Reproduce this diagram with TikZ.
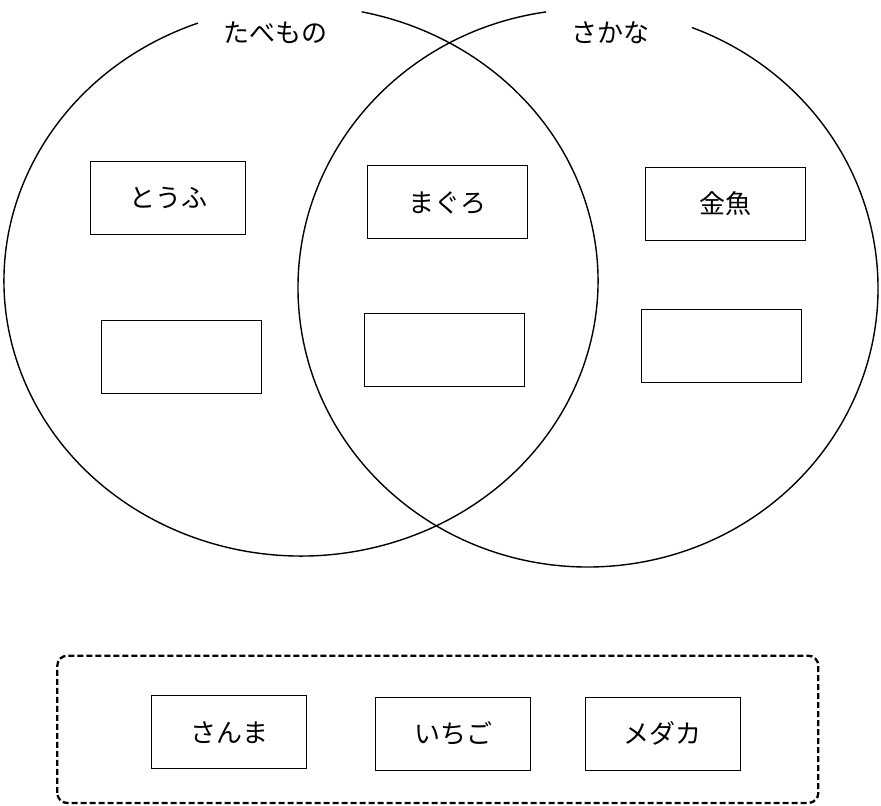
\documentclass[tikz,border=0pt]{standalone}
\usepackage{fontspec}
\newfontfamily\jpfont{Noto Sans CJK JP}
\usetikzlibrary{calc}

\tikzset{
  item/.style={draw, line width=1pt, minimum width=160pt, minimum height=73pt, inner sep=0pt, font=\jpfont\fontsize{26}{30}\selectfont},
  setlabel/.style={inner sep=0pt, font=\jpfont\fontsize{26}{30}\selectfont}
}

\begin{document}
\begin{tikzpicture}[x=1pt, y=1pt]
\useasboundingbox (0,0) rectangle (881,806);

% the two sets
\coordinate (lc) at (301, 525);
\coordinate (rc) at (588, 518);
\draw[line width=1.4pt] ([shift={(110.3:297 and 275)}]lc) arc[start angle=110.3, end angle=438.2, x radius=297, y radius=275];
\draw[line width=1.4pt] ([shift={(98.3:290 and 279)}]rc) arc[start angle=98.3, end angle=429, x radius=290, y radius=279];

\node[setlabel] (food) at (275, 773) {たべもの};
\node[setlabel] (fish) at (610, 773) {さかな};

% inside the sets
\node[item, minimum width=155pt] (tofu) at (168.2, 607.8) {とうふ};
\node[item] (blankl) at (181.9, 449.3) {};
\node[item] (tuna) at (447.3, 603.5) {まぐろ};
\node[item] (blankm) at (444, 456) {};
\node[item] (goldfish) at (725.9, 602) {金魚};
\node[item] (blankr) at (721, 460.3) {};

% cards to sort
\draw[line width=2.3pt, dash pattern=on 6pt off 3pt, rounded corners=10pt] (57.3, 3) rectangle (818.3, 150.3);
\node[item, minimum width=155pt] (saury) at (229.2, 73.7) {さんま};
\node[item, minimum width=155pt] (berry) at (453.2, 72.2) {いちご};
\node[item, minimum width=155pt] (medaka) at (662.9, 72.2) {メダカ};
\end{tikzpicture}
\end{document}
